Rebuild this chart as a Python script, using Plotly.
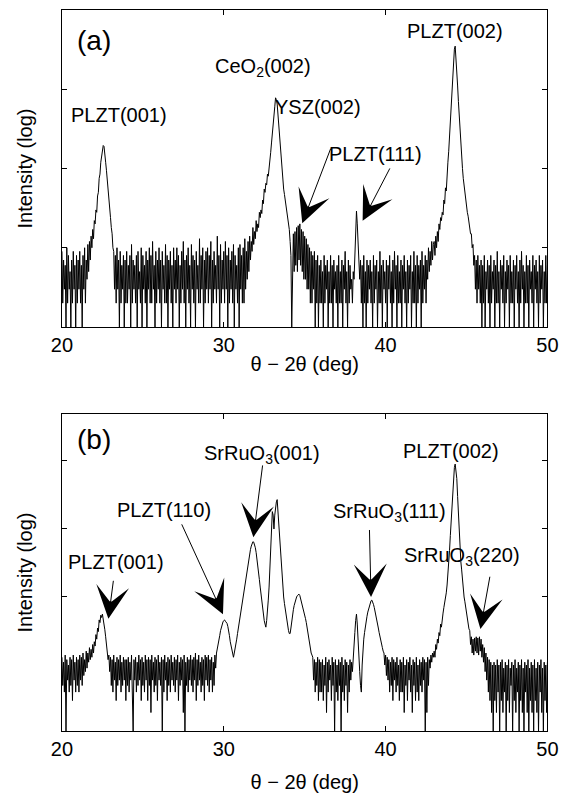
import numpy as np
import plotly.graph_objects as go

# ---------------- data: counts, 0.05 deg steps per 1-deg row ----------------
row_step = 0.05
row_starts = list(range(20, 51))

# Panel (a)
a_20 = [9, 2, 7, 3, 6, 1, 10, 2, 8, 3, 5, 1, 7, 2, 9, 3, 6, 1, 8, 2]
a_21 = [7, 3, 9, 2, 6, 1, 8, 3, 10, 2, 7, 4, 11, 5, 12, 7, 14, 10, 17, 13]
a_22 = [22, 20, 30, 28, 45, 50, 75, 85, 120, 150, 185, 195, 190, 160, 120, 95, 68, 55, 40, 32]
a_23 = [24, 18, 15, 10, 9, 3, 8, 2, 10, 3, 7, 1, 9, 2, 6, 3, 8, 1, 7, 2]
a_24 = [9, 2, 6, 3, 8, 1, 11, 2, 7, 3, 6, 2, 8, 1, 9, 3, 5, 2, 10, 1]
a_25 = [8, 3, 6, 2, 9, 1, 7, 3, 10, 2, 8, 2, 12, 3, 6, 1, 9, 2, 7, 3]
a_26 = [10, 2, 7, 1, 9, 3, 6, 2, 11, 2, 8, 1, 7, 3, 9, 2, 6, 1, 10, 3]
a_27 = [7, 2, 10, 3, 8, 1, 6, 2, 9, 3, 12, 2, 7, 1, 8, 3, 10, 2, 6, 1]
a_28 = [11, 3, 8, 2, 7, 1, 9, 3, 6, 2, 13, 2, 8, 3, 10, 1, 7, 2, 9, 3]
a_29 = [10, 2, 8, 3, 12, 1, 7, 2, 9, 3, 6, 2, 14, 3, 8, 1, 11, 2, 7, 3]
a_30 = [9, 2, 12, 3, 8, 1, 10, 2, 7, 3, 9, 2, 11, 1, 8, 3, 6, 2, 10, 1]
a_31 = [11, 3, 8, 2, 10, 2, 13, 3, 9, 4, 12, 5, 14, 7, 12, 9, 18, 11, 16, 13]
a_32 = [22, 16, 20, 18, 28, 24, 30, 27, 40, 36, 55, 50, 65, 62, 85, 80, 110, 130, 160, 210]
a_33 = [260, 350, 450, 600, 780, 740, 650, 480, 330, 230, 160, 120, 85, 70, 55, 47, 40, 35, 30, 26]
a_34 = [22, 17, 12, 8, 1, 12, 15, 5, 16, 6, 18, 5, 19, 7, 20, 6, 17, 5, 16, 4]
a_35 = [14, 4, 13, 3, 11, 3, 10, 2, 9, 2, 8, 3, 9, 1, 7, 2, 8, 1, 6, 2]
a_36 = [7, 2, 5, 1, 8, 2, 6, 3, 7, 1, 5, 2, 8, 2, 6, 1, 7, 3, 5, 2]
a_37 = [6, 1, 8, 2, 5, 2, 7, 1, 6, 3, 9, 2, 5, 1, 7, 2, 6, 3, 4, 2]
a_38 = [5, 4, 9, 14, 29, 20, 10, 6, 4, 7, 2, 6, 1, 8, 2, 5, 1, 7, 2, 6]
a_39 = [3, 7, 2, 5, 1, 8, 2, 6, 3, 7, 1, 5, 2, 9, 2, 6, 1, 7, 3, 5]
a_40 = [2, 7, 1, 6, 3, 8, 2, 5, 1, 7, 2, 9, 3, 6, 1, 8, 2, 5, 2, 7]
a_41 = [1, 6, 3, 8, 2, 5, 1, 7, 2, 6, 3, 8, 1, 5, 2, 9, 2, 6, 1, 8]
a_42 = [2, 6, 3, 7, 1, 9, 2, 6, 3, 8, 2, 7, 4, 10, 5, 9, 6, 12, 7, 11]
a_43 = [12, 8, 14, 10, 16, 12, 20, 17, 24, 22, 28, 26, 40, 36, 57, 52, 95, 120, 165, 260]
a_44 = [420, 650, 950, 1600, 2400, 3200, 3500, 2600, 1600, 1100, 700, 450, 280, 200, 140, 100, 75, 60, 48, 40]
a_45 = [33, 28, 25, 21, 18, 15, 15, 10, 11, 6, 8, 3, 7, 2, 8, 3, 6, 2, 7, 1]
a_46 = [6, 2, 8, 1, 5, 3, 7, 2, 6, 1, 8, 2, 5, 3, 7, 1, 6, 2, 9, 2]
a_47 = [5, 1, 7, 3, 6, 2, 8, 1, 5, 2, 7, 3, 6, 1, 8, 2, 5, 2, 7, 1]
a_48 = [6, 3, 8, 2, 5, 1, 7, 2, 9, 3, 6, 1, 5, 2, 8, 2, 6, 1, 7, 3]
a_49 = [5, 2, 8, 1, 6, 3, 7, 2, 5, 1, 8, 2, 6, 3, 7, 1, 5, 2, 8, 2]
a_50 = [6]

# Panel (b)
b_20 = [13, 5, 11, 4, 14, 1, 12, 6, 10, 4, 13, 5, 12, 3, 14, 6, 11, 4, 13, 5]
b_21 = [12, 4, 14, 6, 13, 5, 15, 7, 12, 8, 16, 9, 15, 11, 18, 12, 17, 13, 20, 15]
b_22 = [22, 19, 28, 24, 35, 31, 46, 42, 54, 50, 56, 48, 40, 33, 26, 21, 18, 12, 14, 8]
b_23 = [13, 5, 12, 4, 14, 6, 11, 3, 13, 5, 12, 6, 14, 4, 11, 5, 13, 6, 12, 3]
b_24 = [12, 5, 13, 4, 11, 6, 14, 5, 1, 12, 6, 13, 4, 11, 5, 14, 6, 12, 3, 13]
b_25 = [5, 11, 4, 14, 6, 12, 3, 13, 5, 12, 2, 14, 6, 11, 4, 13, 5, 12, 3, 14]
b_26 = [6, 11, 5, 13, 1, 12, 4, 14, 6, 11, 3, 13, 5, 12, 4, 14, 6, 11, 5, 13]
b_27 = [4, 12, 6, 14, 3, 11, 5, 13, 6, 12, 2, 14, 1, 11, 5, 13, 4, 12, 6, 14]
b_28 = [5, 12, 4, 13, 6, 15, 3, 12, 5, 14, 6, 11, 4, 13, 5, 12, 3, 14, 6, 13]
b_29 = [5, 14, 4, 12, 6, 13, 4, 11, 5, 14, 9, 15, 17, 20, 22, 27, 32, 36, 40, 43]
b_30 = [45, 46, 44, 42, 41, 37, 33, 27, 22, 19, 16, 14, 13, 15, 17, 20, 24, 29, 35, 41]
b_31 = [48, 58, 70, 85, 100, 120, 140, 180, 220, 270, 320, 380, 450, 500, 560, 610, 650, 640, 600, 530]
b_32 = [450, 370, 300, 240, 180, 140, 110, 85, 65, 55, 45, 40, 36, 45, 60, 90, 140, 300, 700, 1200]
b_33 = [1800, 1600, 1000, 1600, 2200, 2500, 2700, 1800, 900, 600, 400, 260, 180, 130, 100, 80, 65, 55, 45, 38]
b_34 = [32, 29, 29, 35, 45, 55, 65, 75, 85, 95, 100, 105, 110, 110, 105, 95, 85, 78, 70, 62]
b_35 = [55, 48, 42, 35, 28, 24, 20, 17, 15, 14, 13, 6, 12, 4, 11, 5, 13, 3, 12, 4]
b_36 = [11, 4, 12, 3, 10, 5, 13, 2, 11, 4, 12, 6, 10, 3, 13, 5, 11, 1, 12, 4]
b_37 = [10, 3, 12, 5, 11, 1, 13, 4, 10, 3, 12, 5, 11, 2, 10, 4, 12, 6, 11, 8]
b_38 = [14, 20, 30, 45, 56, 40, 20, 12, 8, 5, 4, 10, 18, 24, 30, 38, 45, 52, 60, 68]
b_39 = [75, 82, 88, 90, 85, 78, 70, 62, 55, 47, 40, 35, 30, 27, 24, 21, 18, 16, 15, 10]
b_40 = [14, 7, 13, 6, 12, 4, 11, 5, 13, 3, 12, 6, 11, 4, 13, 5, 10, 3, 12, 4]
b_41 = [11, 4, 13, 2, 10, 5, 12, 3, 11, 6, 13, 4, 10, 2, 12, 5, 11, 3, 13, 4]
b_42 = [10, 3, 12, 5, 11, 4, 13, 6, 12, 1, 11, 2, 13, 5, 12, 9, 14, 11, 15, 13]
b_43 = [16, 13, 20, 17, 24, 21, 30, 27, 40, 36, 52, 58, 70, 80, 95, 115, 150, 210, 300, 480]
b_44 = [800, 1300, 2200, 3500, 5500, 8000, 9000, 7500, 5500, 3000, 1500, 900, 500, 330, 250, 170, 130, 100, 85, 68]
b_45 = [55, 46, 40, 34, 32, 20, 26, 15, 24, 14, 25, 16, 26, 15, 25, 14, 26, 16, 24, 13]
b_46 = [20, 11, 18, 8, 15, 6, 13, 4, 12, 3, 11, 2, 10, 1, 11, 3, 10, 2, 12, 4]
b_47 = [10, 1, 11, 3, 12, 2, 9, 4, 11, 1, 10, 3, 12, 2, 9, 5, 11, 1, 10, 3]
b_48 = [12, 2, 9, 4, 11, 1, 10, 3, 12, 2, 9, 1, 11, 4, 10, 2, 12, 1, 9, 3]
b_49 = [11, 2, 10, 1, 12, 3, 9, 2, 11, 1, 10, 4, 12, 2, 9, 1, 11, 3, 10, 2]
b_50 = [11]

rows_a = [a_20, a_21, a_22, a_23, a_24, a_25, a_26, a_27, a_28, a_29, a_30,
          a_31, a_32, a_33, a_34, a_35, a_36, a_37, a_38, a_39, a_40,
          a_41, a_42, a_43, a_44, a_45, a_46, a_47, a_48, a_49, a_50]
rows_b = [b_20, b_21, b_22, b_23, b_24, b_25, b_26, b_27, b_28, b_29, b_30,
          b_31, b_32, b_33, b_34, b_35, b_36, b_37, b_38, b_39, b_40,
          b_41, b_42, b_43, b_44, b_45, b_46, b_47, b_48, b_49, b_50]


def flatten(rows):
    xs, ys = [], []
    for d, row in zip(row_starts, rows):
        for j, v in enumerate(row):
            xs.append(round(d + row_step * j, 3))
            ys.append(v)
    return xs, ys


two_theta_a, intensity_a = flatten(rows_a)
two_theta_b, intensity_b = flatten(rows_b)

x_ticks = [20, 30, 40, 50]
y_ticks_a = [10, 100, 1000]
y_ticks_b = [100, 1000, 10000]

# labels: (text, x, log10 y)
labels_a = [
    ("PLZT(001)", 23.52, 2.67),
    ("CeO<sub>2</sub>(002)", 32.45, 3.28),
    ("YSZ(002)", 35.84, 2.78),
    ("PLZT(111)", 39.36, 2.185),
    ("PLZT(002)", 44.26, 3.74),
]
# arrows: (tail x, tail log y, tip x, tip log y)
arrows_a = [
    (36.64, 2.27, 34.85, 1.31),
    (40.31, 2.02, 38.58, 1.34),
]
labels_b = [
    ("PLZT(001)", 23.32, 2.52),
    ("PLZT(110)", 26.30, 3.28),
    ("SrRuO<sub>3</sub>(001)", 32.39, 4.10),
    ("SrRuO<sub>3</sub>(111)", 40.22, 3.24),
    ("PLZT(002)", 44.04, 4.14),
    ("SrRuO<sub>3</sub>(220)", 44.69, 2.60),
]
arrows_b = [
    (23.19, 2.26, 22.87, 1.68),
    (27.36, 3.09, 29.95, 1.745),
    (32.41, 3.956, 31.83, 2.88),
    (39.0, 3.007, 39.1, 2.0),
    (46.46, 2.32, 45.86, 1.53),
]

FONT = "Liberation Sans, Arial, Helvetica, sans-serif"

fig = go.Figure()
fig.add_trace(go.Scatter(x=two_theta_a, y=intensity_a, mode="lines",
                         line=dict(color="black", width=1), xaxis="x", yaxis="y",
                         showlegend=False))
fig.add_trace(go.Scatter(x=two_theta_b, y=intensity_b, mode="lines",
                         line=dict(color="black", width=1), xaxis="x2", yaxis="y2",
                         showlegend=False))

W, H = 569, 793
xdom = [53 / W, 558 / W]
ydom_a = [1 - 327 / H, 1 - 10 / H]
ydom_b = [1 - 731 / H, 1 - 414 / H]


def xaxis_style(standoff):
    return dict(range=[20, 50], tickvals=x_ticks, ticks="inside", ticklen=5,
                showline=True, mirror="ticks", linecolor="black", linewidth=1,
                tickcolor="black", showgrid=False, zeroline=False,
                ticklabeloverflow="allow",
                tickfont=dict(size=20, color="black", family=FONT),
                title=dict(text="θ − 2θ (deg)", font=dict(size=20, color="black", family=FONT),
                           standoff=standoff))


yaxis_common = dict(type="log", ticks="inside", ticklen=5, showticklabels=False,
                    showline=True, mirror="ticks", linecolor="black", linewidth=1,
                    tickcolor="black", showgrid=False, zeroline=False,
                    title=dict(text="Intensity (log)", font=dict(size=20, color="black", family=FONT),
                               standoff=22))

fig.update_layout(
    width=W, height=H, margin=dict(l=0, r=0, t=0, b=0),
    paper_bgcolor="white", plot_bgcolor="white",
    font=dict(family=FONT, color="black"),
    xaxis=dict(domain=xdom, anchor="y", **xaxis_style(1)),
    yaxis=dict(domain=ydom_a, anchor="x", range=[0, 4], tickvals=y_ticks_a, **yaxis_common),
    xaxis2=dict(domain=xdom, anchor="y2", **xaxis_style(18)),
    yaxis2=dict(domain=ydom_b, anchor="x2", range=[0.03, 4.69], tickvals=y_ticks_b, **yaxis_common),
)

ann = []
ann.append(dict(text="(a)", x=22.0, y=3.61, xref="x", yref="y", showarrow=False,
                font=dict(size=28, family=FONT, color="black")))
ann.append(dict(text="(b)", x=22.0, y=4.31, xref="x2", yref="y2", showarrow=False,
                font=dict(size=28, family=FONT, color="black")))
for t, x, y in labels_a:
    ann.append(dict(text=t, x=x, y=y, xref="x", yref="y", showarrow=False,
                    font=dict(size=20, family=FONT, color="black")))
for t, x, y in labels_b:
    ann.append(dict(text=t, x=x, y=y, xref="x2", yref="y2", showarrow=False,
                    font=dict(size=20, family=FONT, color="black")))
for (tx, ty, hx, hy) in arrows_a:
    ann.append(dict(text="", x=hx, y=hy, ax=tx, ay=ty, xref="x", yref="y",
                    axref="x", ayref="y", showarrow=True, arrowhead=3, arrowsize=5.5,
                    arrowwidth=1, arrowcolor="black"))
for (tx, ty, hx, hy) in arrows_b:
    ann.append(dict(text="", x=hx, y=hy, ax=tx, ay=ty, xref="x2", yref="y2",
                    axref="x2", ayref="y2", showarrow=True, arrowhead=3, arrowsize=5.5,
                    arrowwidth=1, arrowcolor="black"))
fig.update_layout(annotations=ann)

fig.write_html("out.html")
